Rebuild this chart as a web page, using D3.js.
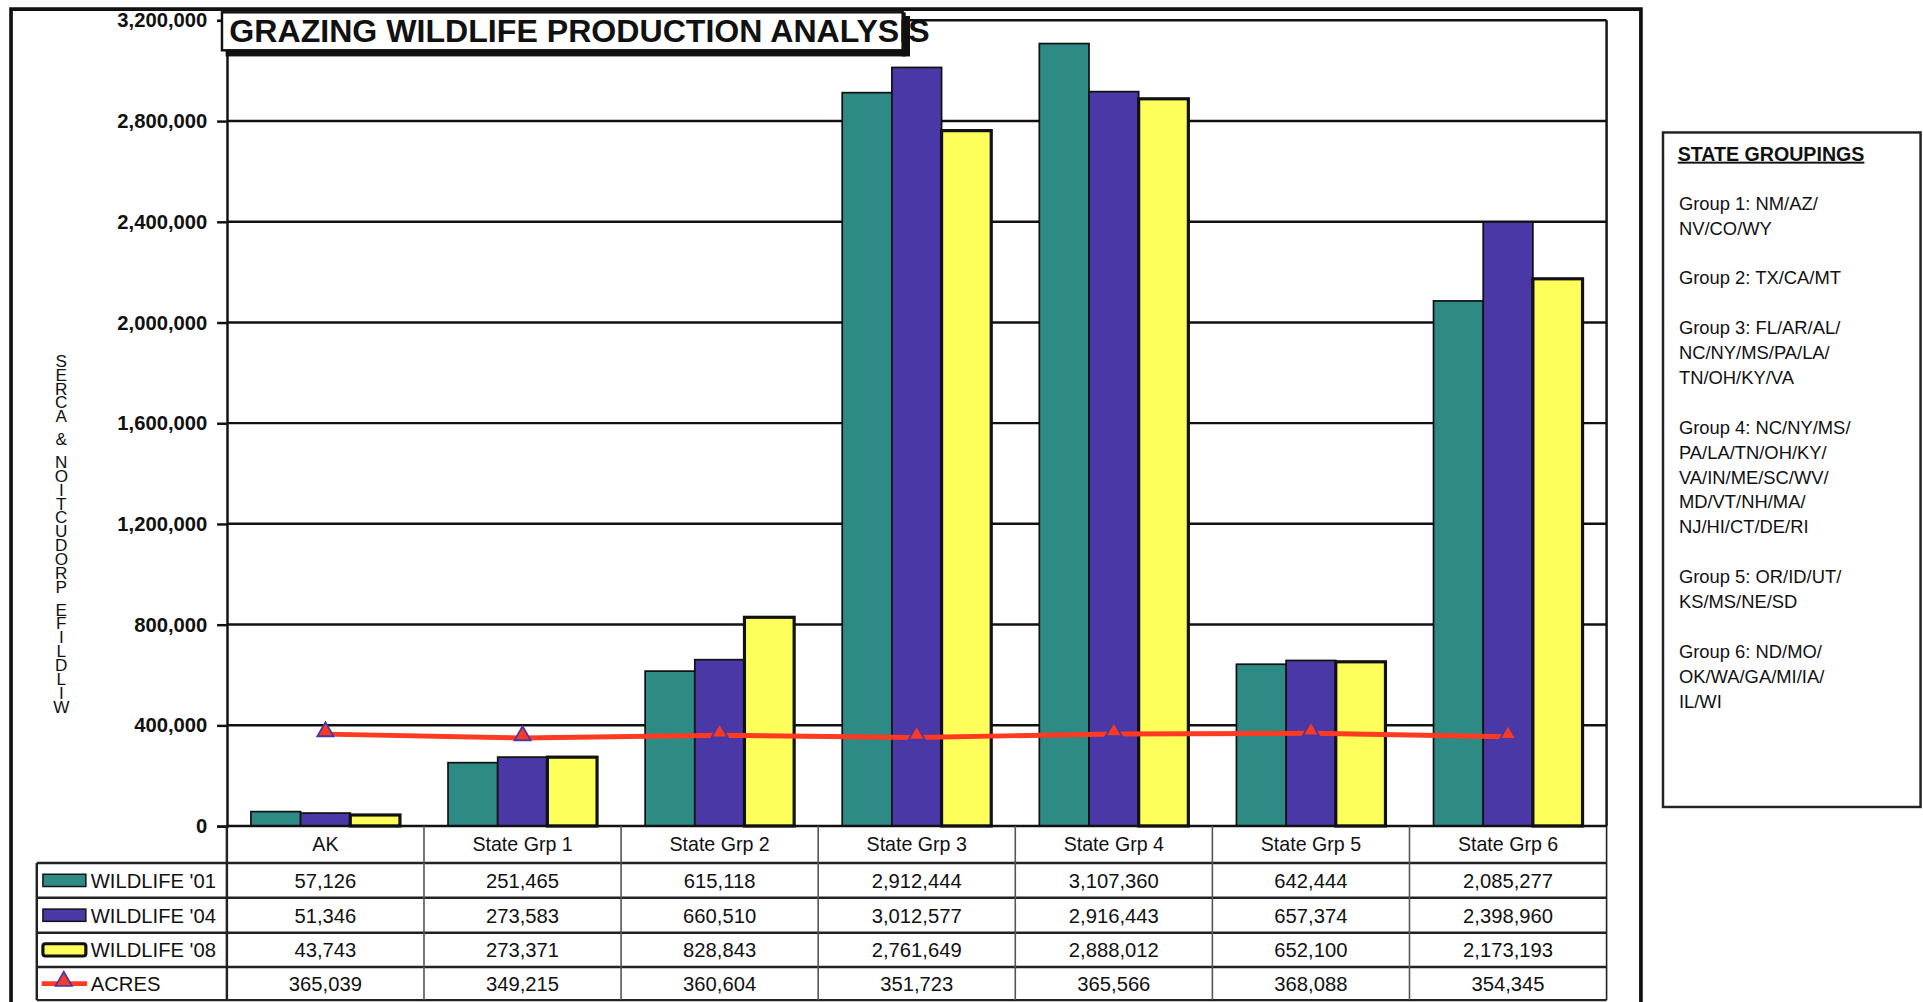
<!DOCTYPE html>
<html>
<head>
<meta charset="utf-8">
<script src="https://cdn.jsdelivr.net/npm/d3@7"></script>
<style>
  html, body { margin: 0; padding: 0; background: #fff; }
  svg { display: block; }
  text { font-family: "Liberation Sans", Arial, sans-serif; fill: #111; }
</style>
</head>
<body>
<svg id="chart" width="1923" height="1002" viewBox="0 0 1568 817"></svg>
<script>
// ---------------- data ----------------
const categories = ["AK", "State Grp 1", "State Grp 2", "State Grp 3", "State Grp 4", "State Grp 5", "State Grp 6"];
const wildlife01 = [57126, 251465, 615118, 2912444, 3107360, 642444, 2085277];
const wildlife04 = [51346, 273583, 660510, 3012577, 2916443, 657374, 2398960];
const wildlife08 = [43743, 273371, 828843, 2761649, 2888012, 652100, 2173193];
const acres      = [365039, 349215, 360604, 351723, 365566, 368088, 354345];
const seriesNames = ["WILDLIFE '01", "WILDLIFE '04", "WILDLIFE '08", "ACRES"];
const yTicks = [0, 400000, 800000, 1200000, 1600000, 2000000, 2400000, 2800000, 3200000];
const titleText = "GRAZING WILDLIFE PRODUCTION ANALYSIS";
const yAxisTitle = "WILDLIFE PRODUCTION & ACRES";
const groupingsTitle = "STATE GROUPINGS";
const groupingLines = [
  "Group 1: NM/AZ/", "NV/CO/WY", "",
  "Group 2: TX/CA/MT", "",
  "Group 3: FL/AR/AL/", "NC/NY/MS/PA/LA/", "TN/OH/KY/VA", "",
  "Group 4: NC/NY/MS/", "PA/LA/TN/OH/KY/", "VA/IN/ME/SC/WV/", "MD/VT/NH/MA/", "NJ/HI/CT/DE/RI", "",
  "Group 5: OR/ID/UT/", "KS/MS/NE/SD", "",
  "Group 6: ND/MO/", "OK/WA/GA/MI/IA/", "IL/WI"
];

// ---------------- setup ----------------
const svg = d3.select("#chart");
const colors = { w01: "#2d8a84", w04: "#4a38a6", w08: "#ffff5c", acres: "#ff3a22", marker: "#4a38a6" };
const seriesData = [wildlife01, wildlife04, wildlife08];
const seriesColors = [colors.w01, colors.w04, colors.w08];

const plot = { left: 185, right: 1310, top: 16.5, bottom: 673.5 };

const x = d3.scaleBand().domain(categories).range([plot.left, plot.right]).paddingInner(0).paddingOuter(0);
const xSub = d3.scaleBand().domain([0, 1, 2]).range([0, x.bandwidth()]).paddingInner(0).paddingOuter(0.484);
const y = d3.scaleLinear().domain([0, 3200000]).range([plot.bottom, plot.top]);
const fmt = d3.format(",");

// outer frame
svg.append("path")
  .attr("d", `M9,818 L9,7.5 L1338,7.5 L1338,818`)
  .attr("fill", "none").attr("stroke", "#111").attr("stroke-width", 3);

// gridlines
svg.append("g").selectAll("line").data(yTicks.filter(d => d > 0)).join("line")
  .attr("x1", plot.left).attr("x2", plot.right)
  .attr("y1", d => y(d)).attr("y2", d => y(d))
  .attr("stroke", "#111").attr("stroke-width", 2);

// plot right border
svg.append("line").attr("x1", plot.right).attr("x2", plot.right)
  .attr("y1", plot.top).attr("y2", plot.bottom).attr("stroke", "#111").attr("stroke-width", 2);

// y axis
const yAxis = d3.axisLeft(y).tickValues(yTicks).tickFormat(fmt).tickSize(8).tickPadding(8);
const yg = svg.append("g").attr("transform", `translate(${plot.left},0)`).call(yAxis);
yg.select(".domain").attr("stroke", "#111").attr("stroke-width", 2);
yg.selectAll(".tick line").attr("stroke", "#111").attr("stroke-width", 2);
yg.selectAll(".tick text")
  .attr("font-family", "'Liberation Sans', Arial, sans-serif")
  .attr("font-size", 16.5).attr("font-weight", "bold").attr("fill", "#111");

// bars
seriesData.forEach((vals, s) => {
  svg.append("g").selectAll("rect").data(vals).join("rect")
    .attr("x", (d, i) => x(categories[i]) + xSub(s))
    .attr("width", xSub.bandwidth())
    .attr("y", d => y(d))
    .attr("height", d => y(0) - y(d))
    .attr("fill", seriesColors[s])
    .attr("stroke", "#111")
    .attr("stroke-width", s === 2 ? 2.6 : 1.4);
});

// x axis baseline
svg.append("line").attr("x1", plot.left).attr("x2", plot.right)
  .attr("y1", plot.bottom).attr("y2", plot.bottom).attr("stroke", "#111").attr("stroke-width", 2);

// acres line
const cx = (d, i) => x(categories[i]) + x.bandwidth() / 2;
svg.append("path").datum(acres)
  .attr("d", d3.line().x(cx).y(d => y(d)))
  .attr("fill", "none").attr("stroke", colors.acres).attr("stroke-width", 4);
const tri = d3.symbol().type(d3.symbolTriangle).size(75);
svg.append("g").selectAll("path").data(acres).join("path")
  .attr("d", tri)
  .attr("transform", (d, i) => `translate(${cx(d, i)},${y(d) - 2})`)
  .attr("fill", colors.acres).attr("stroke", colors.marker).attr("stroke-width", 1.5);

// title box
const tb = svg.append("g");
tb.append("rect").attr("x", 184).attr("y", 13).attr("width", 558).attr("height", 33).attr("fill", "#111");
tb.append("rect").attr("x", 181).attr("y", 10).attr("width", 555).attr("height", 31)
  .attr("fill", "#fff").attr("stroke", "#111").attr("stroke-width", 2);
tb.append("text").attr("x", 187).attr("y", 34)
  .attr("font-size", 25).attr("font-weight", "bold")
  .attr("textLength", 571).attr("lengthAdjust", "spacingAndGlyphs")
  .text(titleText);
tb.append("line").attr("x1", 737).attr("x2", 737).attr("y1", 10).attr("y2", 46)
  .attr("stroke", "#111").attr("stroke-width", 3);

// y axis title: reversed letters stacked vertically (single text, upright vertical writing)
svg.append("text")
  .attr("x", 50).attr("y", 286)
  .attr("font-size", 14)
  .style("writing-mode", "vertical-rl")
  .style("text-orientation", "upright")
  .style("letter-spacing", "-5px")
  .style("word-spacing", "-4px")
  .text(yAxisTitle.split("").reverse().join(""));

// ---------------- data table ----------------
const rowLines = [703.7, 732, 760.5, 788.5, 815.5];
const tableLeft = 30;
const tg = svg.append("g");
rowLines.forEach(ly => {
  tg.append("line").attr("x1", tableLeft).attr("x2", plot.right).attr("y1", ly).attr("y2", ly)
    .attr("stroke", "#222").attr("stroke-width", 2);
});
const vbounds = categories.map(c => x(c)).concat([plot.right]);
vbounds.forEach((vx, i) => {
  tg.append("line").attr("x1", vx).attr("x2", vx).attr("y1", plot.bottom).attr("y2", rowLines[4])
    .attr("stroke", i === 0 || i === vbounds.length - 1 ? "#222" : "#555").attr("stroke-width", i === 0 ? 2 : 1.3);
});
tg.append("line").attr("x1", tableLeft).attr("x2", tableLeft).attr("y1", rowLines[0]).attr("y2", rowLines[4])
  .attr("stroke", "#222").attr("stroke-width", 2);

tg.selectAll("text.cat").data(categories).join("text")
  .attr("class", "cat")
  .attr("x", d => x(d) + x.bandwidth() / 2).attr("y", 694)
  .attr("text-anchor", "middle").attr("font-size", 16).text(d => d);

const allRows = [wildlife01, wildlife04, wildlife08, acres];
allRows.forEach((vals, r) => {
  const cyRow = (rowLines[r] + rowLines[r + 1]) / 2 + 6;
  tg.append("g").selectAll("text").data(vals).join("text")
    .attr("x", (d, i) => x(categories[i]) + x.bandwidth() / 2).attr("y", cyRow)
    .attr("text-anchor", "middle").attr("font-size", 16.5).text(d => fmt(d));
  tg.append("text").attr("x", 74).attr("y", cyRow).attr("font-size", 16.5).text(seriesNames[r]);
  const ky = (rowLines[r] + rowLines[r + 1]) / 2;
  if (r < 3) {
    tg.append("rect").attr("x", 35).attr("y", ky - 5).attr("width", 35).attr("height", 10)
      .attr("rx", r === 2 ? 2 : 0)
      .attr("fill", seriesColors[r]).attr("stroke", "#111").attr("stroke-width", r === 2 ? 2.6 : 1.2);
  } else {
    tg.append("line").attr("x1", 34).attr("x2", 71).attr("y1", ky).attr("y2", ky)
      .attr("stroke", colors.acres).attr("stroke-width", 4);
    tg.append("path").attr("d", tri).attr("transform", `translate(52,${ky - 2})`)
      .attr("fill", colors.acres).attr("stroke", colors.marker).attr("stroke-width", 1.5);
  }
});

// ---------------- state groupings panel ----------------
const pg = svg.append("g");
pg.append("rect").attr("x", 1356).attr("y", 108).attr("width", 210).attr("height", 550)
  .attr("fill", "#fff").attr("stroke", "#222").attr("stroke-width", 2);
pg.append("text").attr("x", 1368).attr("y", 131).attr("font-size", 16).attr("font-weight", "bold")
  .attr("text-decoration", "underline").text(groupingsTitle);
pg.selectAll("text.grp").data(groupingLines).join("text")
  .attr("class", "grp")
  .attr("x", 1369).attr("y", (d, i) => 171 + i * 20.3)
  .attr("font-size", 15).text(d => d);
</script>
</body>
</html>
